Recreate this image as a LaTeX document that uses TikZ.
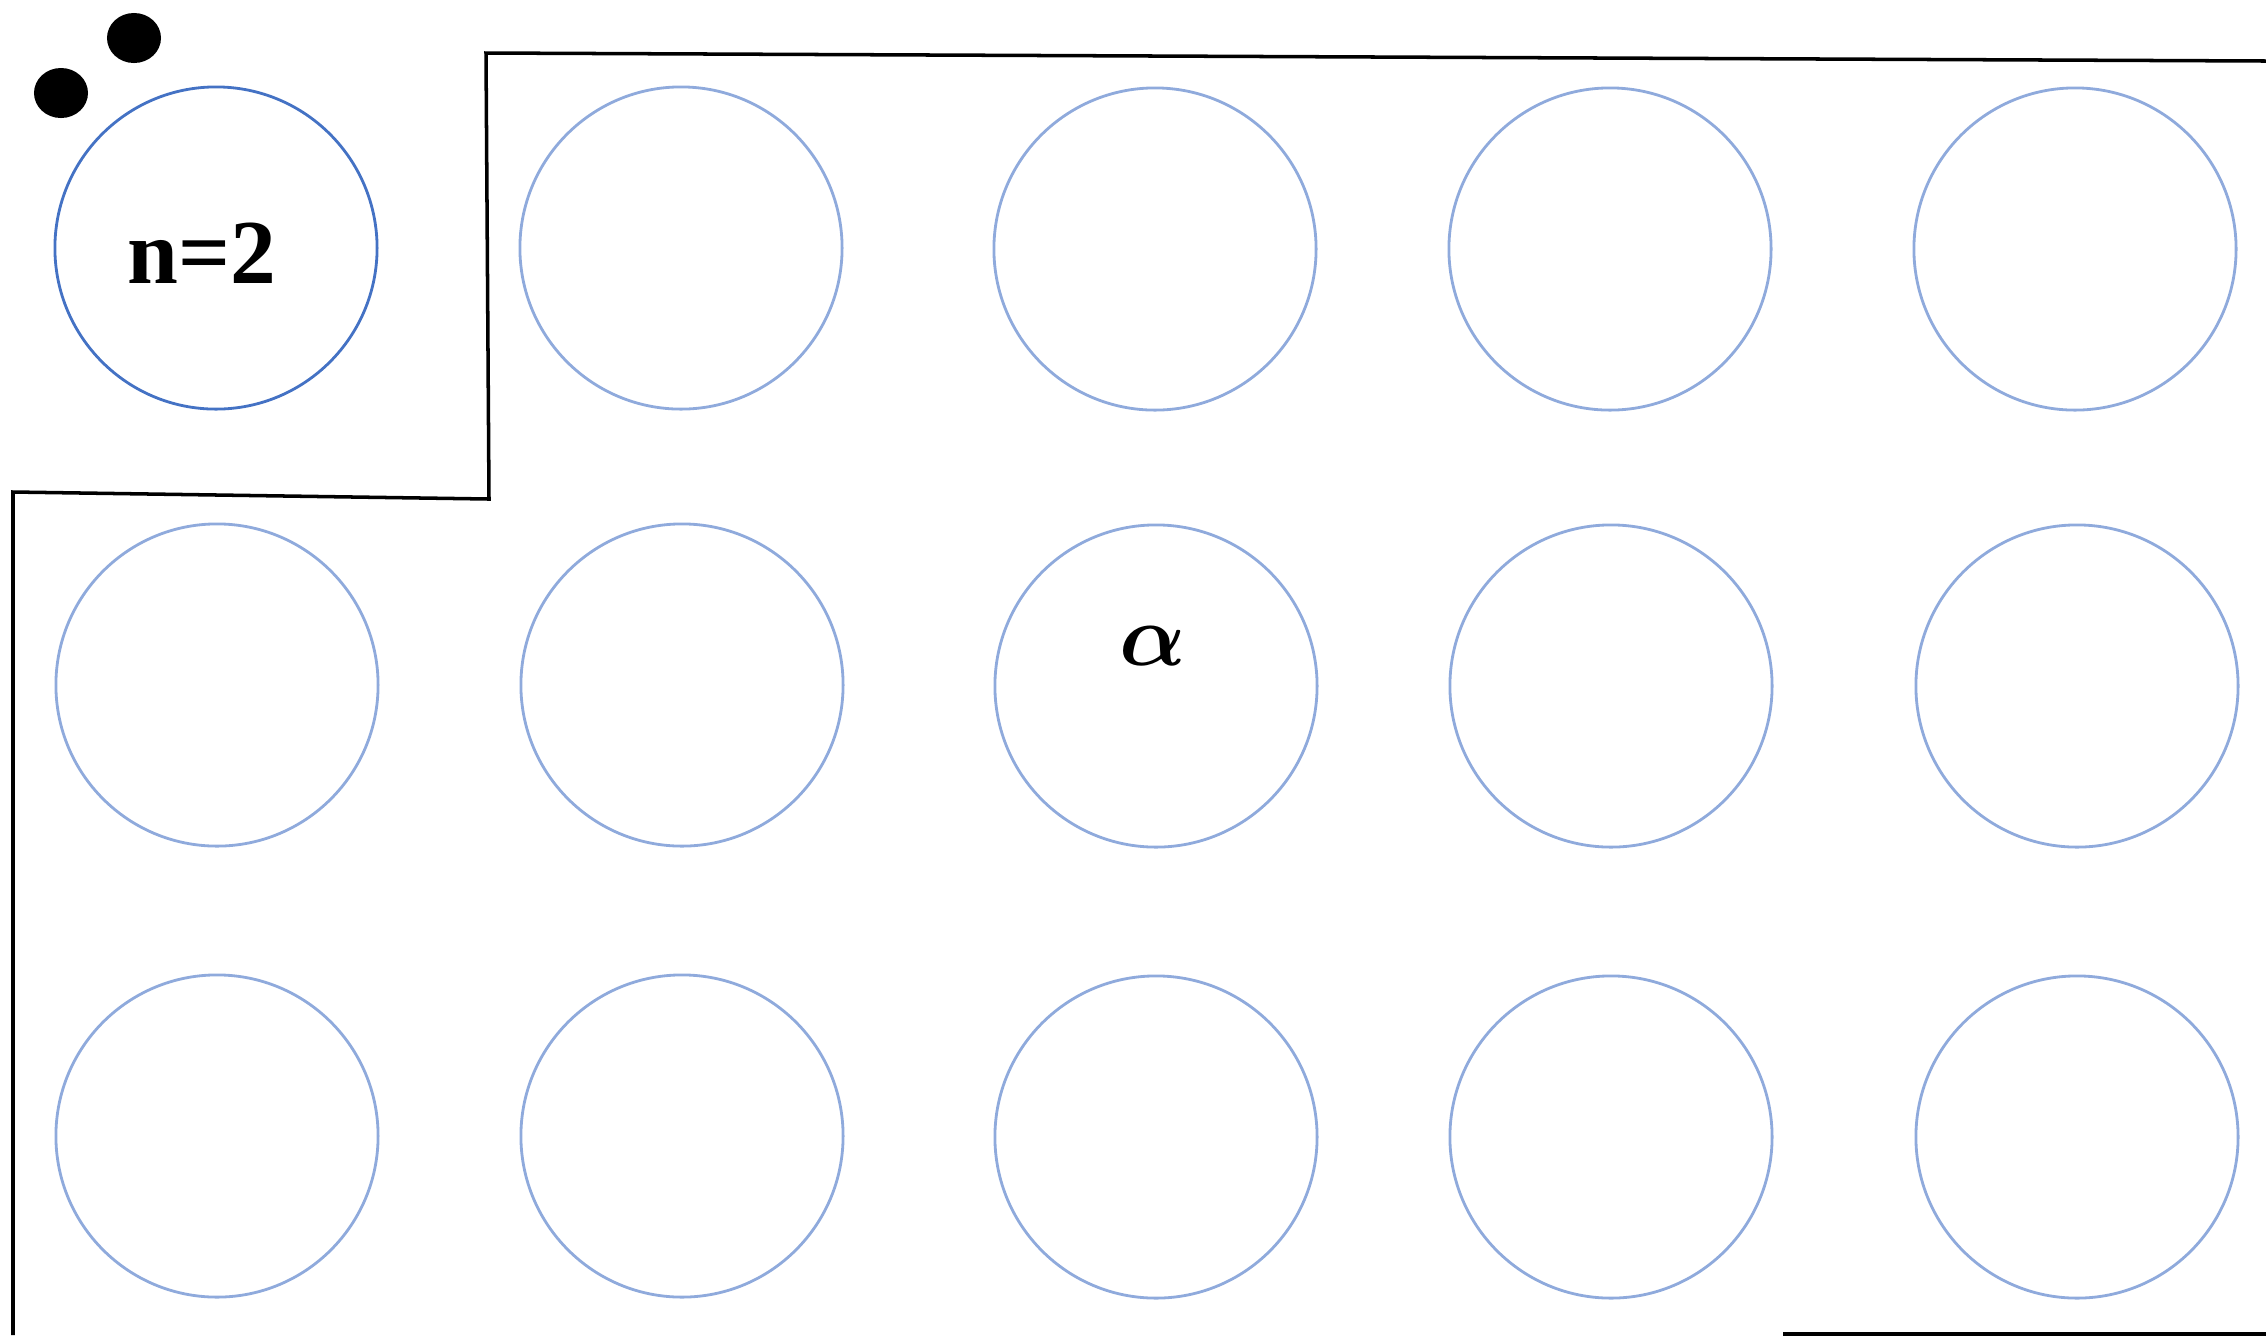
\documentclass[tikz,border=0pt]{standalone}
\usepackage{fontspec}
\setmainfont{Liberation Serif}
\usetikzlibrary{shapes.geometric}
\definecolor{CellBlue}{RGB}{68,114,196}
\definecolor{CellLight}{RGB}{143,170,220}

\begin{document}
\begin{tikzpicture}[
  x=0.01cm, y=-0.01cm,
  cell/.style={circle, draw=CellLight, line width=0.8pt,
               minimum size=3.22cm, inner sep=0pt},
  cellfirst/.style={cell, draw=CellBlue},
  dot/.style={ellipse, fill=black, minimum width=0.54cm,
              minimum height=0.50cm, inner sep=0pt},
  wall/.style={black, line width=1pt},
  lbl/.style={font=\bfseries\fontsize{26}{30}\selectfont, inner sep=0pt},
  sym/.style={font=\boldmath\fontsize{25}{30}\selectfont, inner sep=0pt},
]
\useasboundingbox (0,0) rectangle (2266,1335);

\node[dot] (dotA) at (134,38) {};
\node[dot] (dotB) at (61,93) {};

\node[cellfirst] (c11) at (216,248) {};
\node[cell] (c12) at (681,248) {};
\node[cell] (c13) at (1155,249) {};
\node[cell] (c14) at (1610,249) {};
\node[cell] (c15) at (2075,249) {};

\node[cell] (c21) at (217,685) {};
\node[cell] (c22) at (682,685) {};
\node[cell] (c23) at (1156,686) {};
\node[cell] (c24) at (1611,686) {};
\node[cell] (c25) at (2077,686) {};

\node[cell] (c31) at (217,1136) {};
\node[cell] (c32) at (682,1136) {};
\node[cell] (c33) at (1156,1137) {};
\node[cell] (c34) at (1611,1137) {};
\node[cell] (c35) at (2077,1137) {};

\node[lbl] (nlabel) at (202,253) {n=2};
\node[sym] (alabel) at (1153,646) {$\alpha$};

\coordinate (wtr) at (2266,61);
\coordinate (wtl) at (486,53);
\coordinate (wkn) at (489,499);
\coordinate (wml) at (13,492);
\coordinate (wbl) at (13,1335);
\coordinate (wb1) at (1783,1334);
\coordinate (wb2) at (2266,1334);

\draw[wall] (wtr) -- (wtl) -- (wkn) -- (wml) -- (wbl);
\draw[wall] (wb1) -- (wb2);

\end{tikzpicture}
\end{document}
